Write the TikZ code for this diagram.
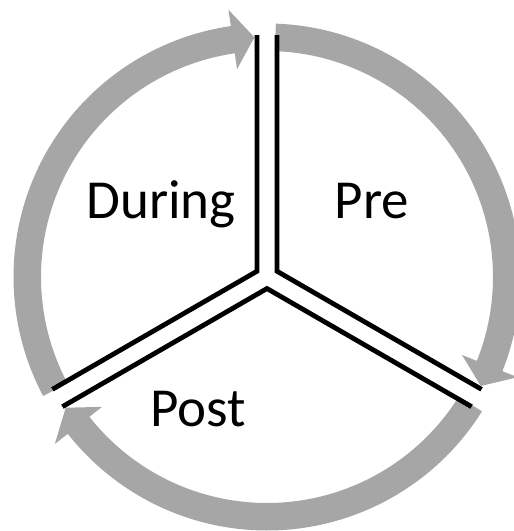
\documentclass[tikz,border=0pt]{standalone}
\usepackage{fontspec}
\setmainfont{Carlito}
\definecolor{arrowgray}{RGB}{166,166,166}
\tikzset{
  divider/.style={draw=black, line width=4.8pt, line join=miter},
  phase/.style={font=\fontsize{55}{60}\selectfont, inner sep=0pt, anchor=base},
}
\begin{document}
\begin{tikzpicture}[x=1pt,y=1pt]
\clip (-267,-254) rectangle (247,277);
\useasboundingbox (-267,-254) rectangle (247,277);
% cycle arrows: tail angle / tip angle
\foreach \t/\h in {208/93, 88/-27, -32/-147}{
  \pgfmathsetmacro{\b}{\h+5.2}
  \fill[arrowgray] (\t:253.5) arc[start angle=\t, end angle=\b, radius=253.5]
    -- (\b:270) -- (\h:240) -- (\b:210) -- (\b:226)
    arc[start angle=\b, end angle=\t, radius=226] -- cycle;
}
% divider coordinates
\coordinate (d1) at (-10,242);
\coordinate (dj) at (-10,5.77);
\coordinate (d2) at (-214.58,-112.34);
\coordinate (p1) at (-204.58,-129.66);
\coordinate (pj) at (0,-11.547);
\coordinate (p2) at (204.58,-129.66);
\coordinate (r1) at (214.58,-112.34);
\coordinate (rj) at (10,5.77);
\coordinate (r2) at (10,242);
\draw[divider] (d1) -- (dj) -- (d2);
\draw[divider] (p1) -- (pj) -- (p2);
\draw[divider] (r1) -- (rj) -- (r2);
% labels
\node[phase] (during) at (-106,59) {During};
\node[phase] (pre) at (105,59) {Pre};
\node[phase] (post) at (-68.7,-149.7) {Post};
\end{tikzpicture}
\end{document}
